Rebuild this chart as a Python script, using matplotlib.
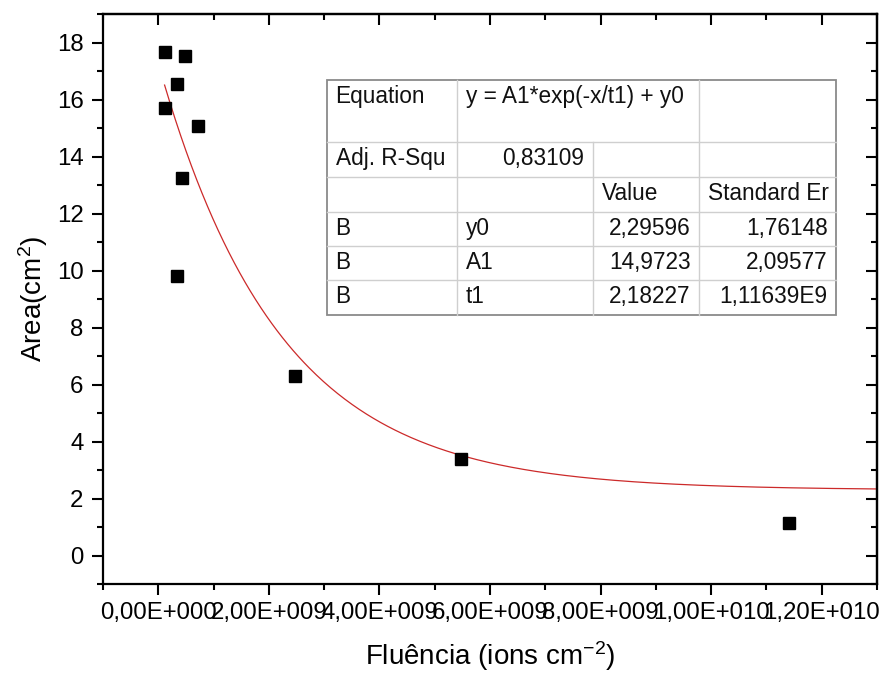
import numpy as np
import matplotlib
matplotlib.use("Agg")
import matplotlib.pyplot as plt
from matplotlib.ticker import MultipleLocator, FixedLocator, FixedFormatter
from matplotlib.lines import Line2D

plt.rcParams['font.family'] = ['Liberation Sans', 'DejaVu Sans']
plt.rcParams['mathtext.fontset'] = 'custom'
plt.rcParams['mathtext.rm'] = 'Liberation Sans'

# ---- data ----
fluence = [0.121e9, 0.488e9, 0.331e9, 0.114e9, 0.723e9, 0.428e9, 0.343e9, 2.47e9, 5.47e9, 11.40e9]
area = [17.67, 17.53, 16.55, 15.70, 15.07, 13.23, 9.80, 6.29, 3.37, 1.14]

# fit parameters (from the table)
y0 = 2.29596
A1 = 14.9723
t1 = 2.18227e9

xticks = [0, 2e9, 4e9, 6e9, 8e9, 1e10, 1.2e10]
xtick_labels = ["0,00E+000", "2,00E+009", "4,00E+009", "6,00E+009", "8,00E+009", "1,00E+010", "1,20E+010"]
yticks = [0, 2, 4, 6, 8, 10, 12, 14, 16, 18]

table_rows = [
    ["Equation", "y = A1*exp(-x/t1) + y0", "", ""],
    ["Adj. R-Squ", "0,83109", "", ""],
    ["", "", "Value", "Standard Er"],
    ["B", "y0", "2,29596", "1,76148"],
    ["B", "A1", "14,9723", "2,09577"],
    ["B", "t1", "2,18227", "1,11639E9"],
]

W, H = 881, 677
fig = plt.figure(figsize=(W / 100, H / 100), dpi=100)
L, R, T, B = 103, 877, 14, 584
ax = fig.add_axes([L / W, 1 - B / H, (R - L) / W, (B - T) / H])

ax.set_xlim(-1e9, 1.3e10)
ax.set_ylim(-1, 19)

xf = np.linspace(min(fluence), 1.3e10, 400)
ax.plot(xf, A1 * np.exp(-xf / t1) + y0, color='#cc2a2a', lw=0.9, zorder=2)
ax.plot(fluence, area, ls='none', marker='s', ms=9, color='black', zorder=3)

ax.xaxis.set_major_locator(FixedLocator(xticks))
ax.xaxis.set_major_formatter(FixedFormatter(xtick_labels))
ax.xaxis.set_minor_locator(MultipleLocator(1e9))
ax.yaxis.set_major_locator(FixedLocator(yticks))
ax.yaxis.set_minor_locator(MultipleLocator(1))

for s in ax.spines.values():
    s.set_linewidth(1.6)
ax.tick_params(which='major', direction='out', length=8, width=1.5, labelsize=17.3, pad=5)
ax.tick_params(which='minor', direction='out', length=4.5, width=1.5)
ax.tick_params(axis='y', which='major', pad=6)

secx = ax.secondary_xaxis('top')
secx.xaxis.set_major_locator(FixedLocator(xticks))
secx.xaxis.set_minor_locator(MultipleLocator(1e9))
secx.tick_params(which='major', direction='in', length=8, width=1.5, labeltop=False)
secx.tick_params(which='minor', direction='in', length=4.5, width=1.5)
secx.spines['top'].set_linewidth(1.6)
secy = ax.secondary_yaxis('right')
secy.yaxis.set_major_locator(FixedLocator(yticks))
secy.yaxis.set_minor_locator(MultipleLocator(1))
secy.tick_params(which='major', direction='in', length=8, width=1.5, labelright=False)
secy.tick_params(which='minor', direction='in', length=4.5, width=1.5)
secy.spines['right'].set_linewidth(1.6)

ax.set_xlabel("Fluência (ions cm$\\mathregular{^{-2}}$)", fontsize=20, labelpad=11)
ax.set_ylabel("Area(cm$\\mathregular{^{2}}$)", fontsize=20, labelpad=5)

# ---- parameter table (figure pixel coordinates) ----
def fx(px):
    return px / W

def fy(py):
    return 1 - py / H

col_x = [327, 457, 593, 699, 836]
row_y = [80, 141.7, 177.3, 211.7, 246, 280, 315]
inner = '#cfcfcf'
for yy in row_y[1:-1]:
    fig.add_artist(Line2D([fx(col_x[0]), fx(col_x[-1])], [fy(yy), fy(yy)], color=inner, lw=1.0))
for i, xx in enumerate(col_x[1:-1]):
    y_start = row_y[1] if i == 1 else row_y[0]
    fig.add_artist(Line2D([fx(xx), fx(xx)], [fy(y_start), fy(row_y[-1])], color=inner, lw=1.0))
fig.add_artist(plt.Rectangle((fx(col_x[0]), fy(row_y[-1])), fx(col_x[-1]) - fx(col_x[0]),
                             fy(row_y[0]) - fy(row_y[-1]), transform=fig.transFigure,
                             fill=False, ec='#8a8a8a', lw=1.3))

pad = 8.5
for r, row in enumerate(table_rows):
    base = row_y[r] + 23
    for c, txt in enumerate(row):
        if not txt:
            continue
        right_align = (r == 1 and c == 1) or (r >= 3 and c >= 2)
        if right_align:
            x = col_x[c + 1] - pad
            ha = 'right'
        else:
            x = col_x[c] + pad
            ha = 'left'
        fig.text(fx(x), fy(base), txt, ha=ha, va='baseline', fontsize=16.3, color='#111111')

fig.savefig("out.png", dpi=100)
